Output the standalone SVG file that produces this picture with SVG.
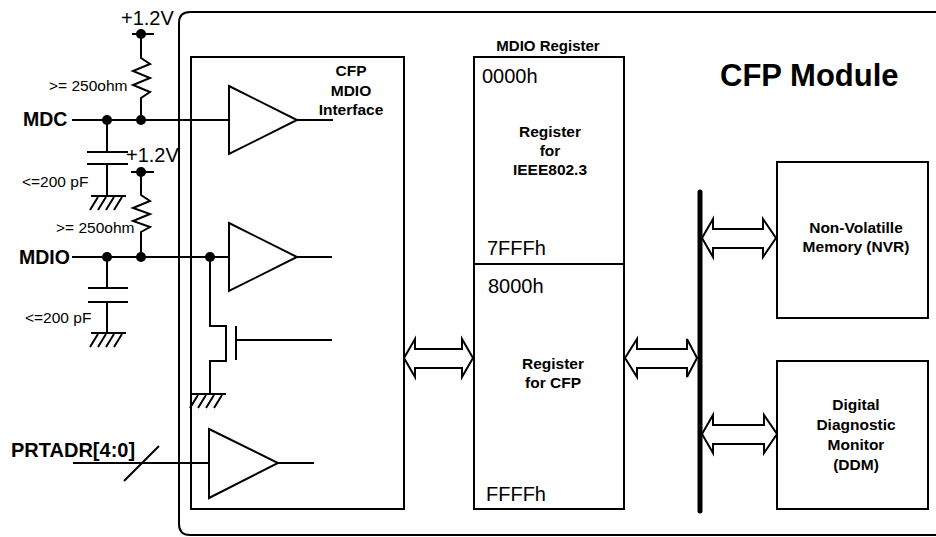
<svg xmlns="http://www.w3.org/2000/svg" xmlns:xlink="http://www.w3.org/1999/xlink" width="936" height="537" viewBox="0 0 936 537">
<style>
.ln{fill:none;stroke:#000;stroke-width:2}
.box{fill:#fff;stroke:#000;stroke-width:2}
.arr{fill:#fff;stroke:#000;stroke-width:2;stroke-linejoin:miter}
.dot{fill:#000}
.t{font-family:"Liberation Sans",Arial,Helvetica,sans-serif;fill:#000}
.b{font-weight:bold}
.sm{font-size:15.5px}
.lg{font-size:20px}
.c{text-anchor:middle}
</style>
<defs>
<path id="gnd" class="ln" d="M0 0 H35 M7 1 L-1 14 M15 1 L7 14 M23 1 L15 14 M31 1 L23 14"/>
</defs>

<g id="module">
<path class="ln" d="M940 12 H190 Q179 12 179 23 V524 Q179 535 190 535 H940"/>
<text class="t b" x="720" y="86" style="font-size:31px">CFP Module</text>
</g>

<g id="mdio-interface">
<rect class="box" x="191" y="57" width="213" height="452"/>
<text class="t b sm c" x="351" y="76">CFP</text>
<text class="t b sm c" x="351" y="96">MDIO</text>
<text class="t b sm c" x="351" y="115">Interface</text>
<path class="box" d="M229 86 L297 120 L229 154 Z"/>
<path class="ln" d="M297 120 H333"/>
<path class="box" d="M229 223 L297 257 L229 291 Z"/>
<path class="ln" d="M297 257 H332"/>
<path class="ln" d="M210 257 V326 H226 V361 H210 V394"/>
<path class="ln" d="M236 326 V360 M236 340 H332"/>
<use xlink:href="#gnd" x="191" y="394"/>
<path class="box" d="M209 429 L278 463 L209 498 Z"/>
<path class="ln" d="M278 463 H314"/>
<circle class="dot" cx="210" cy="257" r="5"/>
</g>

<g id="mdio-register">
<text class="t b c" x="548" y="51" style="font-size:15px">MDIO Register</text>
<rect class="box" x="474" y="57" width="150" height="452"/>
<path class="ln" d="M474 264 H624"/>
<text class="t lg" x="482" y="83">0000h</text>
<text class="t b sm c" x="550" y="137">Register</text>
<text class="t b sm c" x="550" y="156">for</text>
<text class="t b sm c" x="550" y="175">IEEE802.3</text>
<text class="t lg" x="487" y="255">7FFFh</text>
<text class="t lg" x="488" y="293">8000h</text>
<text class="t b sm c" x="553" y="369">Register</text>
<text class="t b sm c" x="553" y="388">for CFP</text>
<text class="t lg" x="486" y="501">FFFFh</text>
</g>

<g id="nvr">
<rect class="box" x="777" y="162" width="151" height="156"/>
<text class="t b sm c" x="856" y="233">Non-Volatille</text>
<text class="t b sm c" x="856" y="252">Memory (NVR)</text>
</g>

<g id="ddm">
<rect class="box" x="777" y="361" width="151" height="148"/>
<text class="t b sm c" x="856" y="410">Digital</text>
<text class="t b sm c" x="856" y="430">Diagnostic</text>
<text class="t b sm c" x="856" y="450">Monitor</text>
<text class="t b sm c" x="856" y="470">(DDM)</text>
</g>

<g id="bus">
<path d="M700 192 V511" fill="none" stroke="#000" stroke-width="5" stroke-linecap="round"/>
</g>

<g id="mdc-circuit">
<text class="t lg" x="121" y="25">+1.2V</text>
<path class="ln" d="M132 34 H154"/>
<circle class="dot" cx="141" cy="34" r="5"/>
<path class="ln" d="M141 34 V58 L150 64 L133 71 L150 78 L133 85 L150 92 L141 98 V120"/>
<text class="t sm" x="49" y="91">&gt;= 250ohm</text>
<text class="t b" x="23" y="126" style="font-size:19.5px">MDC</text>
<path class="ln" d="M72 120 H229"/>
<circle class="dot" cx="107" cy="120" r="5"/>
<circle class="dot" cx="141" cy="120" r="5"/>
<path class="ln" d="M107 120 V152 M87 152 H128 M87 164 H128 M107 164 V196"/>
<use xlink:href="#gnd" x="91" y="196"/>
<text class="t sm" x="22" y="187">&lt;=200 pF</text>
</g>

<g id="mdio-circuit">
<text class="t lg" x="126" y="162">+1.2V</text>
<path class="ln" d="M131 172 H154"/>
<circle class="dot" cx="141" cy="172" r="5"/>
<path class="ln" d="M141 172 V195 L150 201 L133 208 L150 214 L133 221 L150 227 L141 232 V257"/>
<text class="t sm" x="56" y="233">&gt;= 250ohm</text>
<text class="t b" x="19" y="264" style="font-size:19.5px">MDIO</text>
<path class="ln" d="M72 257 H229"/>
<circle class="dot" cx="107" cy="257" r="5"/>
<circle class="dot" cx="141" cy="257" r="5"/>
<path class="ln" d="M107 257 V288 M88 288 H128 M88 302 H128 M107 302 V333"/>
<use xlink:href="#gnd" x="91" y="333"/>
<text class="t sm" x="25" y="323">&lt;=200 pF</text>
</g>

<g id="prtadr">
<text class="t b lg" x="11" y="457">PRTADR[4:0]</text>
<path class="ln" d="M73 463 H209 M124 481 L159 446"/>
</g>

<g id="connectors">
<path class="arr" d="M404 358 L415 339 V349 H462 V339 L473 358 L462 377 V368 H415 V377 Z"/>
<path class="arr" d="M625 358 L637 339 V349 H687 V339 L697 358 L687 377 V368 H637 V377 Z"/>
<path class="arr" d="M702 238 L713 219 V229 H763 V219 L776 238 L763 257 V248 H713 V257 Z"/>
<path class="arr" d="M702 434 L713 415 V425 H764 V415 L777 434 L764 453 V444 H713 V453 Z"/>
</g>
</svg>
